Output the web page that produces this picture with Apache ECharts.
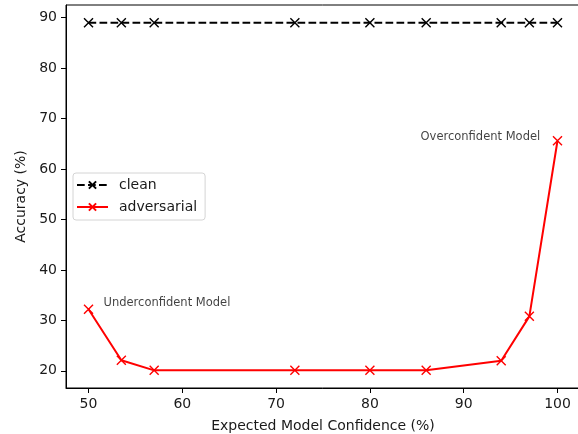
<!DOCTYPE html>
<html>
<head>
<meta charset="utf-8">
<script src="https://cdn.jsdelivr.net/npm/echarts@6/dist/echarts.min.js"></script>
<style>
  html, body { margin: 0; padding: 0; background: #fff; }
  #chart { width: 578px; height: 434px; }
</style>
</head>
<body>
<div id="chart"></div>
<script>
// values
const confidence = [50, 53.5, 57, 72, 80, 86, 94, 97, 100];
const cleanAcc = [89, 89, 89, 89, 89, 89, 89, 89, 89];
const advAcc = [32.2, 22.1, 20.1, 20.1, 20.1, 20.1, 22.0, 30.8, 65.6];
const xTicks = [50, 60, 70, 80, 90, 100];
const yTicks = [20, 30, 40, 50, 60, 70, 80, 90];
const noteText = ['Underconfident Model', 'Overconfident Model'];
const noteX = [51.6, 85.4];
const noteY = [33.4, 66.3];

const font = 'DejaVu Sans';
const cross = 'path://M0,0L10,10M10,0L0,10';

const chart = echarts.init(document.getElementById('chart'));

function lineSeries(name, ys, color, dashed) {
    return {
        name: name,
        type: 'line',
        data: confidence.map((x, i) => [x, ys[i]]),
        symbol: cross,
        symbolSize: 9,
        showAllSymbol: true,
        itemStyle: { color: color, borderColor: color, borderWidth: 1.4 },
        lineStyle: { color: color, width: 2, type: dashed ? [7.7, 3.3] : 'solid' },
        emphasis: { disabled: true },
        z: 3
    };
}

const axisCommon = {
    type: 'value',
    nameLocation: 'middle',
    nameTextStyle: { fontFamily: font, fontSize: 14, color: '#1a1a1a' },
    splitLine: { show: false },
    axisLine: { show: true, onZero: false, lineStyle: { color: '#000', width: 1 } },
    axisTick: { show: true, length: 5, lineStyle: { color: '#000' } },
    axisLabel: { fontFamily: font, fontSize: 14, color: '#1a1a1a', margin: 9 }
};

chart.setOption({
    animation: false,
    grid: {
        left: 66, top: 5, width: 514, height: 383,
        outerBoundsMode: 'none',
        show: true, borderColor: '#000', borderWidth: 1
    },
    xAxis: Object.assign({}, axisCommon, {
        min: 47.6, max: 102.4,
        name: 'Expected Model Confidence (%)',
        nameGap: 31,
        axisTick: Object.assign({}, axisCommon.axisTick, { customValues: xTicks }),
        axisLabel: Object.assign({}, axisCommon.axisLabel, { customValues: xTicks })
    }),
    yAxis: Object.assign({}, axisCommon, {
        min: 16.6, max: 92.5,
        name: 'Accuracy (%)',
        nameGap: 34,
        axisTick: Object.assign({}, axisCommon.axisTick, { customValues: yTicks }),
        axisLabel: Object.assign({}, axisCommon.axisLabel, { customValues: yTicks })
    }),
    legend: {
        data: ['clean', 'adversarial'],
        orient: 'vertical',
        left: 73, top: 173,
        padding: [4, 8, 5, 3],
        itemGap: 6,
        itemWidth: 31,
        itemHeight: 9,
        backgroundColor: '#fff',
        borderColor: '#d4d4d4',
        borderWidth: 1,
        borderRadius: 3,
        textStyle: { fontFamily: font, fontSize: 14, lineHeight: 16, color: '#1a1a1a', padding: [0, 0, 0, 6] }
    },
    series: [
        lineSeries('clean', cleanAcc, '#000000', true),
        lineSeries('adversarial', advAcc, '#ff0000', false),
        {
            name: 'notes',
            type: 'scatter',
            silent: true,
            symbolSize: 0,
            data: noteText.map((t, i) => ({ name: t, value: [noteX[i], noteY[i]] })),
            label: {
                show: true,
                position: 'right',
                distance: 0,
                formatter: p => p.name,
                fontFamily: font,
                fontSize: 11.5,
                color: '#111'
            }
        }
    ]
});
</script>
</body>
</html>
